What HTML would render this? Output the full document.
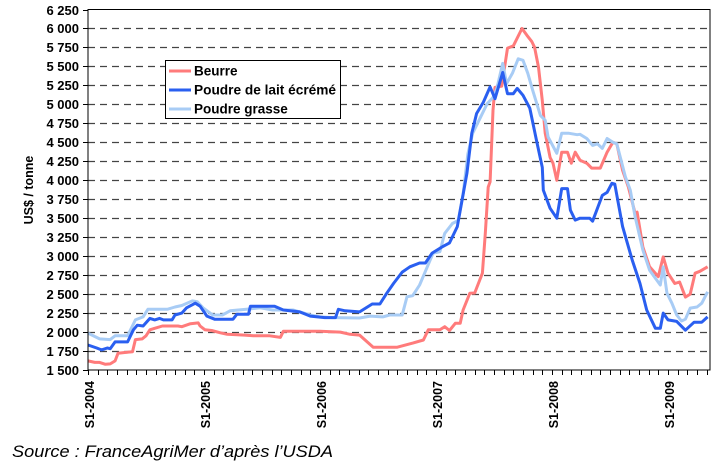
<!DOCTYPE html>
<html><head><meta charset="utf-8"><style>
body{margin:0;background:#fff;}
svg text{font-family:"Liberation Sans",Arial,sans-serif;}
</style></head><body>
<svg id="chart" width="724" height="468" xmlns="http://www.w3.org/2000/svg">
<g id="grid"></g>
<g id="yaxis"></g>
<g id="xaxis"></g>
<g id="series"></g>
<rect x="88" y="9.5" width="622" height="360.5" fill="none" stroke="#000" stroke-width="1"/>
<text transform="translate(33,190) rotate(-90)" text-anchor="middle" font-size="12.5" font-weight="bold">US$ / tonne</text>
<g>
<rect x="165.5" y="60.5" width="175" height="58" fill="#fff" stroke="#000" stroke-width="1"/>
<g><line x1="169" y1="71" x2="191" y2="71" stroke="#ff7b7b" stroke-width="3"/><text x="194" y="75.5" font-size="13.5" font-weight="bold">Beurre</text></g>
<g><line x1="169" y1="90" x2="191" y2="90" stroke="#2a5ff0" stroke-width="3"/><text x="194" y="94.5" font-size="13.5" font-weight="bold" textLength="142" lengthAdjust="spacingAndGlyphs">Poudre de lait écrémé</text></g>
<g><line x1="169" y1="109" x2="191" y2="109" stroke="#a8ccf5" stroke-width="3"/><text x="194" y="113.5" font-size="13.5" font-weight="bold">Poudre grasse</text></g>
</g>
<text x="12" y="457" font-size="17" font-style="italic" textLength="321" lengthAdjust="spacingAndGlyphs">Source : FranceAgriMer d’après l’USDA</text>
</svg>
<script>
const yTicks=[1500,1750,2000,2250,2500,2750,3000,3250,3500,3750,4000,4250,4500,4750,5000,5250,5500,5750,6000,6250];
const yTickLabels=["1 500","1 750","2 000","2 250","2 500","2 750","3 000","3 250","3 500","3 750","4 000","4 250","4 500","4 750","5 000","5 250","5 500","5 750","6 000","6 250"];
const xYearLabels=["S1-2004","S1-2005","S1-2006","S1-2007","S1-2008","S1-2009"];
const xYearMonths=[0,12,24,36,48,60];
const beurreMonths=[0,0.7,1.2,1.8,2.3,2.8,3.1,3.8,4.6,4.9,5.6,6.0,6.4,6.9,7.7,9.3,9.7,10.6,11.4,11.6,12.1,12.8,13.7,14.4,16.2,17.1,18.8,19.9,20.2,24.0,26.1,27.1,28.1,29.5,32.0,33.6,34.7,35.2,36.4,36.9,37.4,38.0,38.5,38.8,39.5,40.0,40.8,41.1,41.4,41.6,41.9,42.1,42.8,43.4,44.0,44.9,45.4,45.9,46.2,46.6,47.0,47.3,47.8,48.1,48.5,49.0,49.6,50.0,50.4,50.9,51.6,52.1,53.0,53.7,54.3,54.7,55.3,55.9,56.6,56.8,57.4,58.1,59.0,59.5,60.0,60.7,61.2,61.8,62.3,62.8,63.3,64.1];
const beurreValues=[1620,1600,1600,1575,1580,1620,1720,1730,1740,1900,1910,1950,2030,2050,2080,2080,2070,2110,2120,2080,2030,2020,1990,1970,1960,1950,1950,1930,2010,2010,2000,1970,1960,1800,1800,1855,1895,2030,2030,2070,2020,2115,2115,2290,2510,2515,2775,3300,3910,3980,4920,5225,5240,5740,5770,6000,5910,5830,5750,5490,5050,4620,4300,4225,4000,4370,4370,4225,4370,4265,4225,4160,4160,4370,4500,4480,4130,3910,3565,3580,3120,2860,2730,2990,2775,2640,2660,2460,2500,2775,2800,2860];
const grasseMonths=[0,1.2,2.3,2.8,4.1,4.9,5.7,6.2,8.2,9.0,9.7,10.8,11.3,11.9,12.9,13.9,14.7,16.4,17.8,19.1,21.2,23.0,24.0,25.3,28.1,29.2,30.5,31.2,32.5,33.0,33.6,34.3,35.1,35.7,36.4,36.9,37.7,38.3,38.8,39.3,39.8,40.6,41.3,41.9,42.3,42.9,43.3,43.9,44.5,45.0,45.5,46.0,46.8,47.3,47.6,48.5,49.0,49.7,50.6,50.9,51.6,52.2,52.7,53.2,53.7,54.3,54.7,55.6,56.1,56.6,57.4,58.1,59.2,59.5,59.9,60.4,60.9,61.4,61.8,62.3,63.0,63.5,64.1];
const grasseValues=[1985,1910,1900,1950,1950,2160,2200,2300,2300,2330,2350,2410,2400,2320,2225,2225,2280,2300,2320,2290,2290,2225,2200,2190,2185,2210,2200,2225,2225,2465,2480,2620,2860,3040,3060,3300,3430,3470,3820,4350,4620,4830,5010,5090,5210,5540,5275,5410,5600,5580,5410,5185,4855,4790,4570,4355,4620,4620,4600,4605,4550,4460,4480,4420,4550,4500,4480,4040,3870,3520,3080,2815,2620,2860,2510,2380,2225,2145,2170,2315,2330,2380,2530];
const pleMonths=[0,0.9,1.4,2.0,2.3,2.8,4.1,4.7,5.1,5.7,6.4,6.9,7.4,7.8,8.7,9.0,9.7,10.2,11.1,11.6,12.3,13.1,15.0,15.4,16.6,16.8,19.3,20.2,21.9,23.0,24.5,25.6,25.9,26.6,28.1,29.4,30.2,30.9,31.6,32.5,33.3,34.3,34.9,35.6,36.6,37.4,38.2,39.2,39.7,40.2,40.9,41.6,42.1,42.9,43.4,44.0,44.4,45.0,45.7,46.4,47.0,47.1,47.8,48.5,49.0,49.6,49.9,50.4,50.9,51.9,52.2,53.2,53.7,54.2,54.5,55.3,56.3,57.1,57.8,58.7,59.2,59.5,60.0,60.9,61.8,62.7,63.5,64.1];
const pleValues=[1830,1790,1765,1790,1780,1870,1870,2030,2090,2080,2180,2160,2180,2160,2160,2225,2250,2320,2380,2340,2210,2170,2170,2235,2235,2340,2340,2290,2265,2210,2190,2190,2300,2280,2265,2370,2370,2510,2640,2790,2860,2910,2910,3040,3120,3175,3390,4090,4620,4880,5030,5230,5075,5420,5140,5140,5210,5120,4950,4525,4170,3870,3630,3500,3890,3890,3605,3475,3500,3500,3460,3800,3840,3960,3950,3390,2950,2640,2290,2050,2050,2250,2160,2140,2025,2130,2130,2200];

const NS="http://www.w3.org/2000/svg";
const X0=88,X1=710,Y0=370,Y1=9.5;
function xScale(m){return X0+m*(116/12);}
function yScale(v){return Y0-(v-1500)/(6250-1500)*(Y0-Y1);}
function mk(tag,attrs,parent){const e=document.createElementNS(NS,tag);for(const k in attrs)e.setAttribute(k,attrs[k]);parent.appendChild(e);return e;}
const grid=document.getElementById('grid'),ya=document.getElementById('yaxis'),xa=document.getElementById('xaxis'),ser=document.getElementById('series');
yTicks.forEach((v,i)=>{
  const y=Math.round(yScale(v))+0.5;
  if(v>1500&&v<6250){
    const g=mk('line',{x1:X0,x2:X1,y1:y,y2:y,stroke:'#444','stroke-width':1.3,'stroke-dasharray':'7,5'},grid);
    
    
  }
  const t=mk('line',{x1:X0-5,x2:X0,y1:y,y2:y,stroke:'#000'},ya);
  
  
  const l=mk('text',{x:X0-9,y:y+4.5,'text-anchor':'end','font-size':13,'font-weight':'bold'},ya);
  l.textContent=yTickLabels[i];
  
  
});
for(let m=0;m<=64;m++){
  const x=Math.round(xScale(m))+0.5;
  const t=mk('line',{x1:x,x2:x,y1:Y0,y2:Y0+5,stroke:'#000'},xa);
  
  
}
xYearLabels.forEach((s,i)=>{
  const x=xScale(xYearMonths[i])+6;
  const l=mk('text',{transform:`translate(${x},${Y0+11}) rotate(-90)`,'text-anchor':'end','font-size':12.5,'font-weight':'bold'},xa);
  l.textContent=s;
  
  
});
function drawLine(ms,vs,color,name){
  const d=ms.map((m,i)=>(i?'L':'M')+xScale(m).toFixed(1)+','+yScale(vs[i]).toFixed(1)).join('');
  const p=mk('path',{d:d,fill:'none',stroke:color,'stroke-width':3,'stroke-linejoin':'round'},ser);
  
  
}
drawLine(beurreMonths,beurreValues,'#ff7b7b','line-beurre');
drawLine(grasseMonths,grasseValues,'#a8ccf5','line-poudre-grasse');
drawLine(pleMonths,pleValues,'#2a5ff0','line-poudre-lait-ecreme');
</script>
</body></html>
